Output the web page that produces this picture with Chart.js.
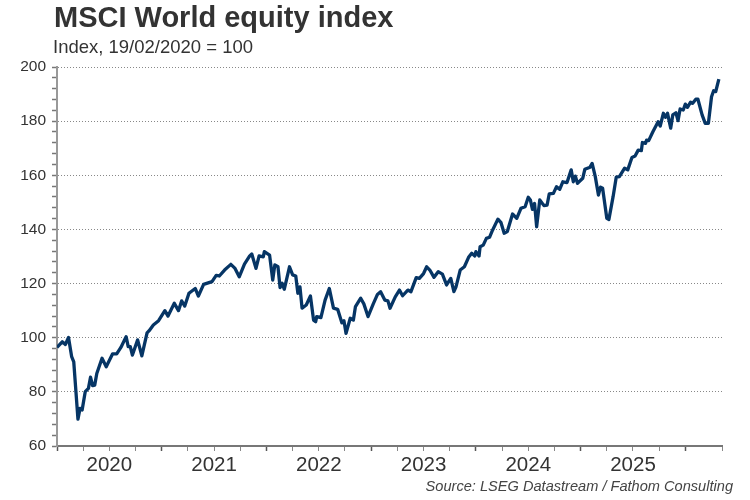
<!DOCTYPE html>
<html><head><meta charset="utf-8">
<script src="https://cdn.jsdelivr.net/npm/chart.js@4"></script>
<style>
body{margin:0;background:#fff;font-family:"Liberation Sans",Arial,sans-serif;}
#wrap{position:relative;width:750px;height:500px;}
#t{position:absolute;left:54px;top:1px;font-size:29px;font-weight:bold;color:#333;}
#s{position:absolute;left:53px;top:36px;font-size:18.5px;color:#333;}
#src{position:absolute;right:17px;top:478px;font-size:14.6px;font-style:italic;color:#444;}
canvas{position:absolute;left:0;top:0;}
</style></head><body>
<div id="wrap"><canvas id="c" width="750" height="500"></canvas>
<div id="t">MSCI World equity index</div>
<div id="s">Index, 19/02/2020 = 100</div>
<div id="src">Source: LSEG Datastream / Fathom Consulting</div></div>
<script>
const dates=[2020.00,2020.05,2020.08,2020.11,2020.14,2020.16,2020.20,2020.22,2020.24,2020.27,2020.30,2020.32,2020.34,2020.36,2020.38,2020.43,2020.47,2020.53,2020.57,2020.61,2020.66,2020.68,2020.70,2020.72,2020.77,2020.81,2020.86,2020.88,2020.92,2020.97,
2021.03,2021.06,2021.12,2021.16,2021.19,2021.22,2021.26,2021.32,2021.35,2021.40,2021.48,2021.52,2021.55,2021.60,2021.66,2021.70,2021.74,2021.79,2021.84,2021.86,2021.90,2021.93,2021.97,2021.98,
2022.03,2022.06,2022.08,2022.11,2022.13,2022.15,2022.17,2022.22,2022.25,2022.28,2022.30,2022.32,2022.34,2022.38,2022.42,2022.45,2022.47,2022.48,2022.52,2022.56,2022.60,2022.64,2022.68,2022.72,2022.74,2022.76,2022.80,2022.83,2022.85,2022.90,2022.93,2022.97,
2023.02,2023.06,2023.09,2023.13,2023.16,2023.18,2023.23,2023.27,2023.30,2023.35,2023.38,2023.43,2023.46,2023.50,2023.53,2023.56,2023.60,2023.64,2023.68,2023.72,2023.76,2023.79,2023.81,2023.85,2023.89,2023.93,2023.96,2023.99,
2024.00,2024.03,2024.04,2024.07,2024.10,2024.13,2024.16,2024.21,2024.24,2024.27,2024.30,2024.35,2024.39,2024.43,2024.47,2024.50,2024.52,2024.54,2024.56,2024.58,2024.61,2024.65,2024.68,2024.70,2024.74,2024.77,2024.80,2024.83,2024.87,2024.91,2024.93,2024.95,2024.97,
2025.02,2025.04,2025.09,2025.11,2025.14,2025.17,2025.19,2025.21,2025.25,2025.27,2025.31,2025.34,2025.37,2025.42,2025.45,2025.49,2025.52,2025.55,2025.58,2025.59,2025.62,2025.63,2025.65,2025.69,2025.74,2025.76,2025.79,2025.81,2025.83,2025.86,2025.88,2025.91,2025.93,2025.95,2025.98,
2026.00,2026.02,2026.05,2026.07,2026.10,2026.12,2026.16,2026.19,2026.22,2026.25,2026.27,2026.29,2026.32];
const values=[96.4,98.5,97.5,100.1,93,91.1,69.9,73.9,73.3,80.1,81.3,85.4,82.3,82.5,86.8,92.4,89.3,94,94,96.4,100.4,96.7,96.7,93.6,99.2,93.3,101.8,102.6,104.7,106.3,
110,108,112.7,110,113.6,111.7,116.4,118.2,115.4,119.7,120.7,123,122.8,125,127.1,125.6,122.5,127.2,130.2,130.9,125.6,130.2,129.9,131.8,
130.5,121.3,126.9,126.2,118.5,120.1,117.9,126.2,123.2,122.8,116.4,118.8,110.9,112.1,115.4,106.5,105.9,107.8,107.4,113.9,118.2,110.9,110.5,105.5,106.3,101.6,107.2,106.5,111.5,114.6,112.5,107.8,
112.5,116,117,113.9,113.6,110.9,115.1,117.6,115.5,117.6,117,122.2,121.9,123.7,126.2,125,122.3,124.4,123.5,119.5,121.9,117,118.8,125,126.2,129.7,131.2,130.2,
131.8,130.2,133.6,134.2,136.7,137.1,139.8,143.8,142.5,138.6,139.2,145.7,144.1,147.8,148.4,151.9,150.9,147.4,149.6,141,150.9,148.8,149,153.1,153.3,155.8,154.8,157.6,157.3,162,157.6,159.7,157,
158.9,162.2,163,164.4,159.5,152.7,155.6,155.2,144.1,143.7,152.1,159.3,159.5,162.6,162,166.6,167.1,169.3,169.1,172.1,171.8,173,172.8,176.1,179.8,178.2,182.9,181.4,182.9,177.4,182.3,183.1,180.2,184.5,184.1,
186.3,185.1,187,186.6,188.1,188.1,182.3,179.2,179.2,189,191.2,190.9,195.5];
const yTicks=[60,80,100,120,140,160,180,200];
const pts=dates.map((d,i)=>({x:d,y:values[i]}));
new Chart(document.getElementById('c'),{type:'line',
data:{datasets:[{data:pts,borderColor:'#063565',borderWidth:3.3,pointRadius:0,tension:0,borderJoinStyle:'round'}]},
options:{responsive:false,animation:false,layout:{padding:{top:67,right:28,bottom:18,left:0}},
plugins:{legend:{display:false},tooltip:{enabled:false}},
scales:{
x:{type:'linear',min:2020,max:2026.35,afterFit:s=>{s.height=36;},
 ticks:{stepSize:0.25,autoSkip:false,maxRotation:0,color:'#333',font:{family:'Liberation Sans',size:20.5},padding:2,
  callback:v=>Math.abs(v%1-0.5)<1e-6?String(Math.floor(v)):''},
 grid:{drawOnChartArea:false,color:c=>Math.abs(c.tick.value%1)<1e-6?'#555':'#888',tickLength:5,tickWidth:c=>Math.abs(c.tick.value%1)<1e-6?1.5:1},
 border:{color:'#777',width:2}},
y:{min:60,max:200,afterFit:s=>{s.width=57;},
 ticks:{stepSize:4,autoSkip:false,color:'#333',font:{family:'Liberation Sans',size:15.5},padding:6,
  callback:v=>yTicks.includes(v)?String(v):''},
 grid:{color:c=>yTicks.includes(c.tick.value)&&c.tick.value!==60?'#888':'rgba(0,0,0,0)',tickColor:'#777',tickLength:5,tickWidth:1.5,lineWidth:1,tickBorderDash:[]},
 border:{color:'#999',width:2,dash:[1,2]}}
}}});
</script></body></html>
